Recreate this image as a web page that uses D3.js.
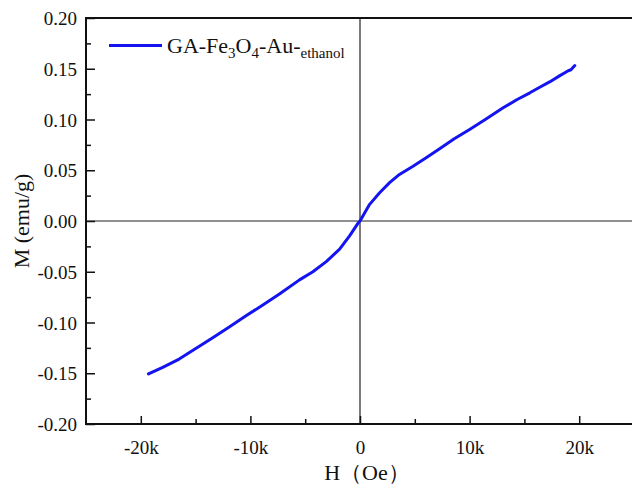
<!DOCTYPE html>
<meta charset="utf-8">
<style>
  body { margin: 0; background: #fff; }
  text { font-family: "Liberation Serif", "Times New Roman", serif; fill: #111; }
</style>
<body>
<script src="https://cdn.jsdelivr.net/npm/d3@7"></script>
<script>
// field H (Oe) and magnetization M (emu/g)
var fieldH = [-19300, -18000, -16500, -14660, -13400, -12000, -10400, -8900, -7350, -5520,
              -4300, -3080, -1860, -950, -190, 0, 880, 1790, 2700, 3600, 4840, 6000, 7300,
              8600, 10000, 11500, 13060, 14300, 15500, 16400, 17300, 18200, 19000, 19250, 19600];
var magM = [-0.1507, -0.1442, -0.1360, -0.1235, -0.1147, -0.1050, -0.0934, -0.0830, -0.0720, -0.0580,
            -0.0500, -0.0400, -0.0278, -0.0147, -0.0023, 0.0, 0.0164, 0.0279, 0.0378, 0.0459, 0.0540,
            0.0620, 0.0715, 0.0810, 0.0902, 0.1005, 0.1115, 0.1195, 0.1263, 0.1318, 0.1370, 0.1430,
            0.1480, 0.1490, 0.1531];
var xMajor = [-20000, -10000, 0, 10000, 20000];
var xMinor = [-15000, -5000, 5000, 15000];
var yMajor = [-0.20, -0.15, -0.10, -0.05, 0.00, 0.05, 0.10, 0.15, 0.20];
var yMinor = [-0.175, -0.125, -0.075, -0.025, 0.025, 0.075, 0.125, 0.175];

var serif = "'Liberation Serif', 'Times New Roman', serif";
var margin = {top: 18, right: -2, bottom: 60, left: 86},
    width = 632 - margin.left - margin.right,
    height = 484 - margin.top - margin.bottom;

var x = d3.scaleLinear().domain([-25000, 25000]).range([0, width]);
var y = d3.scaleLinear().domain([-0.2, 0.2]).range([height, 0]);

var svg = d3.select("body").append("svg")
    .attr("width", 632)
    .attr("height", 484)
  .append("g")
    .attr("transform", "translate(" + margin.left + "," + margin.top + ")");

// zero lines
svg.append("line").attr("x1", 0).attr("x2", width).attr("y1", y(0)).attr("y2", y(0))
    .attr("stroke", "#222").attr("stroke-width", 1.2);
svg.append("line").attr("x1", x(0)).attr("x2", x(0)).attr("y1", 0).attr("y2", height)
    .attr("stroke", "#222").attr("stroke-width", 1.2);

// axes
var fmtY = function(d){ return d3.format(".2f")(d).replace("−", "-"); };
var xAxis = svg.append("g")
    .attr("transform", "translate(0," + height + ")")
    .call(d3.axisBottom(x).tickValues(xMajor)
      .tickFormat(function(d){ return d === 0 ? "0" : (d / 1000) + "k"; })
      .tickSize(-8).tickSizeOuter(0).tickPadding(17));
svg.append("g")
    .attr("transform", "translate(0," + height + ")")
    .call(d3.axisBottom(x).tickValues(xMinor).tickFormat("").tickSize(-5).tickSizeOuter(0));

var yAxis = svg.append("g")
    .call(d3.axisLeft(y).tickValues(yMajor).tickFormat(fmtY)
      .tickSize(-9).tickSizeOuter(0).tickPadding(9));
svg.append("g")
    .call(d3.axisLeft(y).tickValues(yMinor).tickFormat("").tickSize(-5).tickSizeOuter(0));

svg.selectAll(".tick line").attr("stroke", "#111").attr("stroke-width", 1.5);
svg.selectAll(".domain").remove();
xAxis.attr("font-family", serif).attr("font-size", 19);
yAxis.attr("font-family", serif).attr("font-size", 19);
svg.selectAll(".tick text").attr("fill", "#111");
yAxis.selectAll(".tick text").attr("dy", "0.35em");

// frame
svg.append("rect").attr("x", 0).attr("y", 0).attr("width", width).attr("height", height)
    .attr("fill", "none").attr("stroke", "#111").attr("stroke-width", 2);

// curve
var pts = fieldH.map(function(h, i){ return [h, magM[i]]; });
svg.append("path")
    .datum(pts)
    .attr("fill", "none")
    .attr("stroke", "#1414f0")
    .attr("stroke-width", 3)
    .attr("stroke-linejoin", "round")
    .attr("stroke-linecap", "round")
    .attr("d", d3.line().x(function(d){ return x(d[0]); }).y(function(d){ return y(d[1]); }));

// legend
svg.append("line").attr("x1", 23).attr("x2", 76).attr("y1", 27.5).attr("y2", 27.5)
    .attr("stroke", "#1414f0").attr("stroke-width", 3);
var leg = svg.append("text").attr("x", 81).attr("y", 35).style("font-size", "22px");
leg.append("tspan").text("GA-Fe");
leg.append("tspan").attr("dy", 5).style("font-size", "15px").text("3");
leg.append("tspan").attr("dy", -5).text("O");
leg.append("tspan").attr("dy", 5).style("font-size", "15px").text("4");
leg.append("tspan").attr("dy", -5).text("-Au-");
leg.append("tspan").attr("dy", 5).style("font-size", "15px").text("ethanol");

// axis titles
svg.append("text")
    .attr("x", 281).attr("y", height + 56)
    .attr("text-anchor", "middle")
    .style("font-size", "22px")
    .text("H（Oe）");
svg.append("text")
    .attr("transform", "translate(" + (-57) + "," + (height / 2) + ") rotate(-90)")
    .attr("text-anchor", "middle")
    .style("font-size", "22px")
    .text("M (emu/g)");
</script>
</body>
